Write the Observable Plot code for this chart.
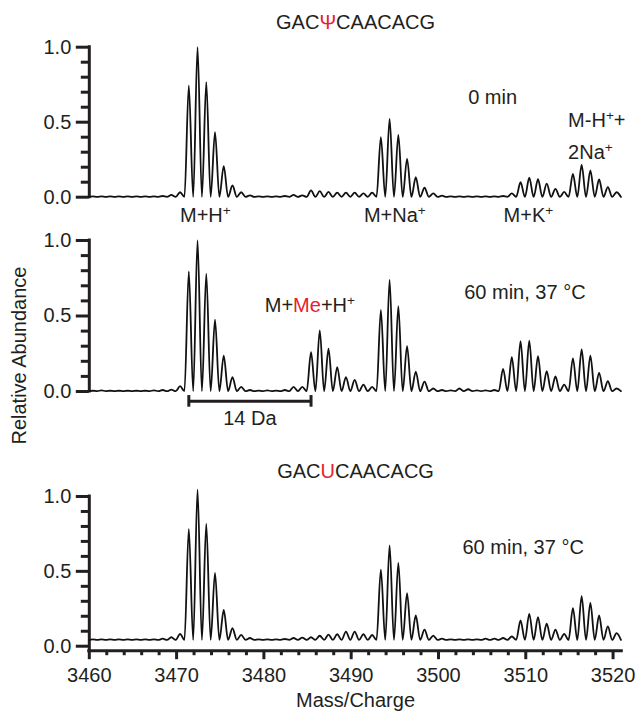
<!DOCTYPE html>
<html><head><meta charset="utf-8">
<script src="https://cdn.jsdelivr.net/npm/d3@7"></script>
<script src="https://cdn.jsdelivr.net/npm/@observablehq/plot@0.6"></script>
<style>
body{margin:0;background:#fff;}
#chart{position:relative;width:636px;height:714px;background:#fff;}
#chart svg{position:absolute;left:0;}
</style></head><body><div id="chart"></div>
<script>
// ---- data ----
const peakMz = [3460.4,3461.4,3462.4,3463.4,3464.4,3465.4,3466.4,3467.4,3468.4,3469.4,
  3470.4,3471.4,3472.4,3473.4,3474.4,3475.4,3476.4,3477.4,3478.4,3479.4,
  3480.4,3481.4,3482.4,3483.4,3484.4,3485.4,3486.4,3487.4,3488.4,3489.4,
  3490.4,3491.4,3492.4,3493.4,3494.4,3495.4,3496.4,3497.4,3498.4,3499.4,
  3500.4,3501.4,3502.4,3503.4,3504.4,3505.4,3506.4,3507.4,3508.4,3509.4,
  3510.4,3511.4,3512.4,3513.4,3514.4,3515.4,3516.4,3517.4,3518.4,3519.4,
  3520.4];
// GACΨCAACACG, 0 min
const psi0 = [0.005,0.005,0.005,0.005,0.005,0.005,0.005,0.006,0.008,0.015,
  0.033,0.745,1.0,0.767,0.433,0.207,0.078,0.033,0.012,0.006,
  0.005,0.005,0.008,0.015,0.012,0.045,0.04,0.035,0.03,0.03,
  0.03,0.025,0.03,0.40,0.522,0.415,0.256,0.133,0.063,0.025,
  0.01,0.006,0.005,0.005,0.005,0.005,0.006,0.008,0.025,0.10,
  0.13,0.12,0.09,0.055,0.035,0.155,0.215,0.178,0.118,0.067,
  0.033];
// GACΨCAACACG, 60 min, 37 °C
const psi60 = [0.005,0.008,0.005,0.005,0.005,0.005,0.005,0.008,0.01,0.012,
  0.035,0.795,1.0,0.78,0.475,0.238,0.095,0.03,0.01,0.006,
  0.008,0.006,0.01,0.03,0.03,0.26,0.404,0.283,0.161,0.095,
  0.077,0.046,0.03,0.54,0.74,0.565,0.30,0.132,0.066,0.02,
  0.01,0.008,0.02,0.015,0.008,0.008,0.01,0.15,0.227,0.333,
  0.336,0.234,0.135,0.10,0.046,0.22,0.278,0.238,0.124,0.068,
  0.02];
// GACUCAACACG, 60 min, 37 °C
const u60 = [0.045,0.045,0.045,0.045,0.045,0.045,0.045,0.046,0.05,0.06,
  0.083,0.784,1.045,0.818,0.49,0.243,0.12,0.076,0.055,0.046,
  0.045,0.045,0.048,0.055,0.058,0.06,0.07,0.078,0.08,0.098,
  0.098,0.08,0.075,0.512,0.673,0.557,0.354,0.205,0.111,0.071,
  0.05,0.046,0.045,0.045,0.046,0.05,0.05,0.055,0.065,0.172,
  0.216,0.194,0.15,0.11,0.083,0.254,0.334,0.29,0.205,0.132,
  0.087];
const baselines = [0.002, 0.002, 0.042];
const xTicks = [3460,3470,3480,3490,3500,3510,3520];
const xMinor = [3462,3464,3466,3468,3472,3474,3476,3478,3482,3484,3486,3488,3492,3494,3496,3498,3502,3504,3506,3508,3512,3514,3516,3518];
const yTicks = [0, 0.5, 1.0];
const yMinor = [0.1,0.2,0.3,0.4,0.6,0.7,0.8,0.9];
const titles = ["GAC[Ψ]CAACACG", "GAC[U]CAACACG"];
const ionLabels = ["M+H^+", "M+Na^+", "M+K^+"];
const ionMz = [3473.3, 3495.0, 3510.3];
const conditions = ["0 min", "60 min, 37 °C"];
const methylLabel = "M+[Me]+H^+";
const dimerLabel = ["M-H^++", "2Na^+"];
const shift = {label: "14 Da", from: 3471.4, to: 3485.4};
const xLabel = "Mass/Charge";
const yLabel = "Relative Abundance";

// ---- helpers ----
const INK = "#231f20", RED = "#e8202a";
const xDomain = [3460, 3521];
function profile(h, b) {
  const pts = [{mz: xDomain[0], ab: b}];
  peakMz.forEach((m, i) => {
    if (i > 0) pts.push({mz: m - 0.5, ab: b});
    pts.push({mz: m, ab: h[i]});
  });
  pts.push({mz: peakMz[peakMz.length - 1] + 0.5, ab: b});
  return pts;
}
function rich(svg) {
  d3.select(svg).selectAll("text").each(function () {
    const s = this.textContent;
    if (!/[\[\^]/.test(s)) return;
    this.textContent = "";
    const t = d3.select(this);
    let red = false;
    for (let i = 0; i < s.length; i++) {
      const c = s[i];
      if (c === "[") { red = true; continue; }
      if (c === "]") { red = false; continue; }
      if (c === "^") {
        t.append("tspan").attr("baseline-shift", "super").attr("font-size", "0.68em").text(s[++i]);
        continue;
      }
      const ts = t.append("tspan").text(c);
      if (red) ts.attr("fill", RED);
    }
  });
}
const common = {
  width: 636, marginLeft: 88.8, marginRight: 14.7,
  style: {fontFamily: "'Liberation Sans', Arial, sans-serif", fontSize: "20px", color: INK, background: "transparent", overflow: "visible"}
};
function yAxes(lo) {
  return [
    Plot.ruleX([xDomain[0]], {y1: lo, y2: 1, stroke: INK, strokeWidth: 3, strokeLinecap: "square"}),
    Plot.axisY({ticks: yMinor, tickSize: 8, tickFormat: () => "", label: null, stroke: INK, strokeWidth: 3}),
    Plot.axisY({ticks: yTicks, tickSize: 13, tickPadding: 5, tickFormat: d3.format(".1f"), label: null, stroke: INK, strokeWidth: 3})
  ];
}
const line = (h, b) => Plot.line(profile(h, b), {x: "mz", y: "ab", curve: "monotone-x", stroke: "#111", strokeWidth: 1.8});
const lab = (o) => ({lineAnchor: "bottom", fill: INK, ...o});

// ---- panel 1 ----
const p1 = Plot.plot({
  ...common, height: 226, marginTop: 46.7, marginBottom: 29.3,
  y: {domain: [0, 1], label: null}, x: {domain: xDomain, axis: null, label: null},
  marks: [
    ...yAxes(0),
    line(psi0, baselines[0]),
    Plot.text([titles[0]], lab({frameAnchor: "top", dy: -18.7})),
    Plot.text(ionLabels, lab({x: (d, i) => ionMz[i], y: () => -0.165})),
    Plot.text([conditions[0]], lab({x: () => 3506.2, y: () => 0.621})),
    Plot.text([dimerLabel[0]], lab({x: () => 3514.85, y: () => 0.465, textAnchor: "start"})),
    Plot.text([dimerLabel[1]], lab({x: () => 3514.85, y: () => 0.258, textAnchor: "start"}))
  ]
});
p1.style.top = "0px";

// ---- panel 2 ----
const p2 = Plot.plot({
  ...common, height: 229, marginTop: 14, marginBottom: 64,
  y: {domain: [0, 1], label: null}, x: {domain: xDomain, axis: null, label: null},
  marks: [
    ...yAxes(0),
    line(psi60, baselines[1]),
    Plot.text([methylLabel], lab({x: () => 3480.1, y: () => 0.525, textAnchor: "start"})),
    Plot.text([conditions[1]], lab({x: () => 3509.9, y: () => 0.614})),
    Plot.ruleY([shift], {x1: "from", x2: "to", y: () => -0.064, stroke: INK, strokeWidth: 3}),
    Plot.ruleX([shift.from, shift.to], {y1: -0.027, y2: -0.104, stroke: INK, strokeWidth: 3}),
    Plot.text([shift], lab({x: (d) => (d.from + d.to) / 2, y: () => -0.225, text: "label"})),
    Plot.text([yLabel], lab({x: () => 3452.7, y: () => 0.238, rotate: -90}))
  ]
});
p2.style.top = "226px";

// ---- panel 3 ----
const p3 = Plot.plot({
  ...common, height: 259, marginTop: 41, marginBottom: 63.8,
  y: {domain: [-0.03, 1], label: null}, x: {domain: xDomain, label: null},
  marks: [
    ...yAxes(-0.03),
    Plot.ruleY([-0.03], {x1: xDomain[0], x2: xDomain[1], stroke: INK, strokeWidth: 3, strokeLinecap: "square"}),
    Plot.axisX({ticks: xMinor, tickSize: 5, tickFormat: () => "", label: null, stroke: INK, strokeWidth: 3}),
    Plot.axisX({ticks: xTicks, tickSize: 9, tickPadding: 8, tickFormat: "d", label: null, stroke: INK, strokeWidth: 3}),
    line(u60, baselines[2]),
    Plot.text([titles[1]], lab({frameAnchor: "top", dy: -19})),
    Plot.text([conditions[1]], lab({x: () => 3509.7, y: () => 0.617})),
    Plot.text([xLabel], lab({frameAnchor: "bottom", dy: 56.7}))
  ]
});
p3.style.top = "455px";

const chart = document.getElementById("chart");
[p1, p2, p3].forEach(p => { chart.appendChild(p); rich(p); });
</script></body></html>
